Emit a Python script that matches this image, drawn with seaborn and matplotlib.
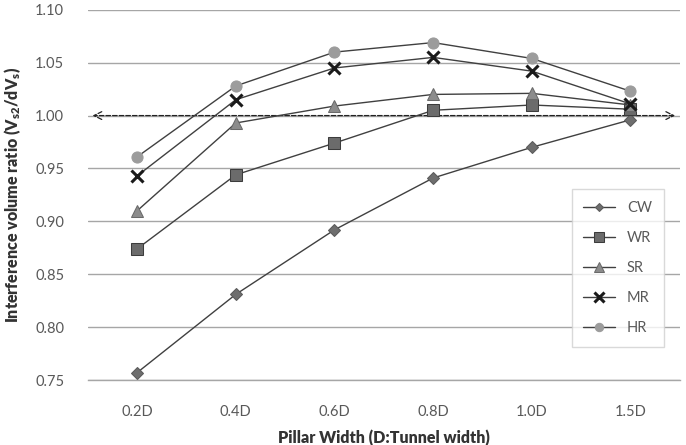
import pandas as pd
import seaborn as sns
import matplotlib.pyplot as plt
from matplotlib.ticker import MultipleLocator

# values
widths = ["0.2D", "0.4D", "0.6D", "0.8D", "1.0D", "1.5D"]
cw = [0.757, 0.831, 0.892, 0.941, 0.970, 0.996]
wr = [0.874, 0.944, 0.974, 1.005, 1.010, 1.006]
sr = [0.910, 0.993, 1.009, 1.020, 1.021, 1.010]
mr = [0.943, 1.015, 1.045, 1.055, 1.042, 1.011]
hr = [0.961, 1.028, 1.060, 1.069, 1.054, 1.023]
series = ["CW", "WR", "SR", "MR", "HR"]

df = pd.DataFrame({"width": widths * 5,
                   "ratio": cw + wr + sr + mr + hr,
                   "case": [s for s in series for _ in widths]})

sns.set_style("white")
plt.rcParams["font.family"] = ["Lato", "DejaVu Sans"]
plt.rcParams["mathtext.default"] = "regular"

fig = plt.figure(figsize=(6.86, 4.45), dpi=100)
ax = fig.add_axes([0.128, 0.146, 0.863, 0.832])

# marker look per series (Excel grayscale style)
styles = {
    "CW": dict(marker="D", markersize=6, markerfacecolor="#6e6e6e", markeredgecolor="#5a5a5a"),
    "WR": dict(marker="s", markersize=9, markerfacecolor="#6b6b6b", markeredgecolor="#3c3c3c"),
    "SR": dict(marker="^", markersize=9, markerfacecolor="#8c8c8c", markeredgecolor="#6a6a6a"),
    "MR": dict(marker="x", markersize=9, markeredgewidth=2.2, markeredgecolor="#1a1a1a"),
    "HR": dict(marker="o", markersize=8, markerfacecolor="#9c9c9c", markeredgecolor="#9c9c9c"),
}

for s in series:
    sub = df[df["case"] == s]
    sns.lineplot(data=sub, x="width", y="ratio", ax=ax, label=s, color="#404040",
                 linewidth=1.0, zorder=3, **styles[s])

# dashed reference line at 1.0 with arrow heads
ax.annotate("", xy=(-0.48, 1.0), xytext=(5.48, 1.0),
            arrowprops=dict(arrowstyle="<->", linestyle="--", color="#222222",
                            linewidth=0.9, mutation_scale=14), zorder=2)

ax.set_xlim(-0.5, 5.5)
ax.set_ylim(0.75, 1.10)
ax.yaxis.set_major_locator(MultipleLocator(0.05))
ax.yaxis.set_major_formatter(plt.FormatStrFormatter("%.2f"))
ax.xaxis.set_minor_locator(MultipleLocator(0.5))
ax.grid(axis="y", color="#a6a6a6", linewidth=1.0)
ax.set_axisbelow(True)

for side in ["top", "right", "left"]:
    ax.spines[side].set_visible(False)
ax.spines["bottom"].set_color("#a6a6a6")
ax.spines["bottom"].set_linewidth(1.0)

ax.tick_params(axis="y", length=0, pad=17, labelsize=10.5, labelcolor="#595959")
ax.tick_params(axis="x", which="both", direction="inout", length=8, width=1,
               color="#a6a6a6", pad=14, labelsize=10.5, labelcolor="#595959")

ax.set_xlabel("Pillar Width (D:Tunnel width)", fontsize=11.5, fontweight="heavy",
              color="#333333", labelpad=8)
ax.set_ylabel("Interference volume ratio (V$_{s2}$/dV$_{s}$)", fontsize=11.5,
              fontweight="heavy", color="#333333", labelpad=9)

leg = ax.legend(loc="lower right", bbox_to_anchor=(0.985, 0.07), frameon=True,
                fancybox=False, edgecolor="#d0d0d0", fontsize=10.5,
                labelspacing=1.1, handlelength=2.2, borderpad=0.8,
                markerscale=0.75)
for t in leg.get_texts():
    t.set_color("#595959")

fig.savefig("out.png", dpi=100)
